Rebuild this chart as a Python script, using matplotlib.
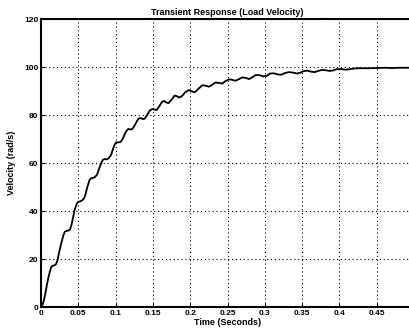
import matplotlib
matplotlib.use("Agg")
import matplotlib.pyplot as plt

# digitized load velocity response (time in s, velocity in rad/s)
time_s = [0.0, 0.002, 0.004, 0.006, 0.008, 0.010, 0.012, 0.0135, 0.015, 0.018, 0.020,
          0.022, 0.024, 0.027, 0.030, 0.032, 0.034, 0.037, 0.039,
          0.041, 0.043, 0.045, 0.048, 0.050, 0.052, 0.055, 0.058,
          0.060, 0.062, 0.065, 0.067, 0.069, 0.072, 0.075,
          0.077, 0.080, 0.083, 0.086, 0.088, 0.091, 0.094,
          0.096, 0.099, 0.101, 0.104, 0.107, 0.110, 0.112,
          0.115, 0.117, 0.120, 0.122, 0.125, 0.129,
          0.131, 0.134, 0.137, 0.139, 0.142, 0.146,
          0.149, 0.152, 0.155, 0.158, 0.162, 0.165,
          0.168, 0.171, 0.175, 0.179, 0.182, 0.185,
          0.189, 0.193, 0.198, 0.202, 0.206, 0.211, 0.216, 0.220,
          0.225, 0.229, 0.234, 0.238, 0.243, 0.247, 0.252, 0.256,
          0.261, 0.265, 0.270, 0.274, 0.279, 0.283, 0.288,
          0.293, 0.298, 0.303, 0.307, 0.312, 0.318, 0.322, 0.327,
          0.332, 0.338, 0.343, 0.347, 0.352, 0.357, 0.362, 0.367,
          0.372, 0.376, 0.381, 0.387, 0.392, 0.396, 0.402, 0.408,
          0.414, 0.420, 0.426, 0.432, 0.440, 0.450, 0.460, 0.470, 0.480, 0.490, 0.500]
velocity = [0.0, 1.0, 3.0, 6.0, 9.5, 12.5, 15.0, 16.6, 17.2, 17.5, 17.9,
            19.5, 22.5, 26.5, 30.0, 31.5, 31.8, 32.0, 32.6,
            34.5, 37.5, 40.5, 43.2, 44.0, 44.1, 44.5, 45.5,
            47.5, 50.0, 53.0, 53.8, 53.8, 54.2, 55.2,
            57.0, 59.5, 61.5, 61.8, 61.6, 62.2, 63.5,
            65.5, 68.0, 68.8, 68.7, 69.0, 70.5, 72.0,
            73.7, 74.3, 74.1, 74.2, 75.5, 77.8,
            78.7, 78.8, 78.4, 78.6, 80.0, 82.0,
            82.6, 82.4, 82.2, 83.5, 85.5, 86.0,
            85.3, 85.1, 86.5, 88.2, 88.0, 87.4,
            88.0, 89.5, 90.5, 90.0, 89.6, 91.0, 92.5, 92.4,
            91.9, 92.6, 93.7, 93.5, 93.2, 94.2, 95.0, 94.8,
            94.4, 95.0, 95.8, 95.6, 95.1, 95.8, 96.8,
            96.7, 96.2, 96.5, 97.4, 97.5, 97.0, 96.9, 97.6,
            98.0, 97.8, 97.4, 97.7, 98.4, 98.6, 98.2, 98.0,
            98.5, 98.9, 98.8, 98.5, 98.7, 99.2, 99.3, 99.0,
            99.2, 99.5, 99.6, 99.6, 99.6, 99.7, 99.8, 99.7, 99.8, 99.8, 99.8]

x_ticks = [0, 0.05, 0.1, 0.15, 0.2, 0.25, 0.3, 0.35, 0.4, 0.45, 0.5]
x_tick_labels = ["0", "0.05", "0.1", "0.15", "0.2", "0.25", "0.3", "0.35", "0.4", "0.45", "0.5"]
y_ticks = [0, 20, 40, 60, 80, 100, 120]

plt.rcParams['font.family'] = ['Liberation Sans', 'DejaVu Sans']

fig = plt.figure(figsize=(4.09, 3.30), dpi=100)
ax = fig.add_axes([41 / 409, 22.7 / 330, 373 / 409, 288 / 330])

ax.plot(time_s, velocity, color='black', linewidth=1.3)

ax.set_xlim(0, 0.5)
ax.set_ylim(0, 120)
ax.set_xticks(x_ticks)
ax.set_xticklabels(x_tick_labels)
ax.set_yticks(y_ticks)
ax.grid(True, color='black', linestyle=(0, (1, 2.5)), linewidth=0.8)
ax.tick_params(direction='in', length=3, width=0.8, labelsize=6, pad=2)
for lbl in ax.get_xticklabels() + ax.get_yticklabels():
    lbl.set_fontweight('bold')
for side in ['left', 'bottom', 'top']:
    ax.spines[side].set_linewidth(1.5)
ax.spines['right'].set_linewidth(0.8)

ax.set_title("Transient Response (Load Velocity)", fontsize=6.5, fontweight='bold', pad=3)
ax.set_xlabel("Time (Seconds)", fontsize=6.5, fontweight='bold', labelpad=1)
ax.set_ylabel("Velocity (rad/s)", fontsize=6.5, fontweight='bold', labelpad=6)

fig.savefig("out.png", dpi=100)
